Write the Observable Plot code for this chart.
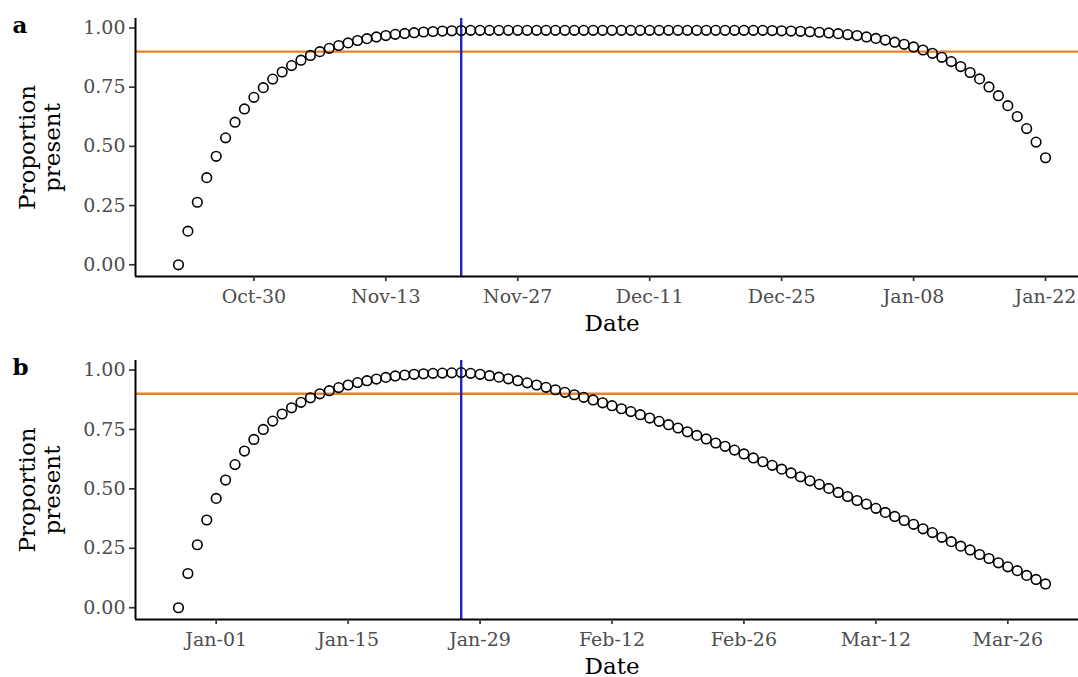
<!DOCTYPE html>
<html><head><meta charset="utf-8">
<script src="https://cdn.jsdelivr.net/npm/d3@7"></script>
<script src="https://cdn.jsdelivr.net/npm/@observablehq/plot@0.6"></script>
<style>
html,body{margin:0;padding:0;background:#fff;}
#chart svg{display:block;}
</style></head>
<body><div id="chart"></div>
<script>
// ---- data ----
const tags = ["a", "b"];
const startDates = ["2018-10-22", "2018-12-28"];       // first daily point of each panel
const peakDates = ["2018-11-21", "2019-01-27"];        // blue vertical line
const threshold = 0.9;                                 // orange horizontal line
const ticksA = ["2018-10-30","2018-11-13","2018-11-27","2018-12-11","2018-12-25","2019-01-08","2019-01-22"];
const ticksB = ["2019-01-01","2019-01-15","2019-01-29","2019-02-12","2019-02-26","2019-03-12","2019-03-26"];
const yTicks = [0, 0.25, 0.5, 0.75, 1];

const propA = [
  0.000,0.142,0.264,0.368,0.458,0.536,0.602,0.658,0.707,0.748,
  0.784,0.814,0.841,0.864,0.884,0.900,0.914,0.926,0.937,0.947,
  0.955,0.962,0.968,0.973,0.977,0.980,0.983,0.985,0.987,0.988,
  0.989,0.990,0.990,0.990,0.990,0.990,0.990,0.990,0.990,0.990,
  0.990,0.990,0.990,0.990,0.990,0.990,0.990,0.990,0.990,0.990,
  0.990,0.990,0.990,0.990,0.990,0.990,0.990,0.990,0.990,0.990,
  0.990,0.990,0.990,0.989,0.988,0.987,0.986,0.984,0.982,0.979,
  0.976,0.972,0.968,0.962,0.956,0.949,0.940,0.931,0.920,0.907,
  0.893,0.876,0.858,0.837,0.812,0.785,0.751,0.714,0.672,0.626,
  0.575,0.518,0.452
];
const propB = [
  0.000,0.144,0.265,0.369,0.460,0.537,0.602,0.659,0.708,0.750,
  0.785,0.815,0.841,0.864,0.883,0.900,0.913,0.926,0.937,0.947,
  0.955,0.962,0.969,0.975,0.979,0.982,0.984,0.986,0.987,0.988,
  0.989,0.986,0.982,0.976,0.970,0.963,0.955,0.946,0.937,0.927,
  0.917,0.906,0.896,0.885,0.874,0.862,0.850,0.837,0.825,0.812,
  0.798,0.784,0.770,0.756,0.740,0.725,0.710,0.693,0.679,0.663,
  0.647,0.630,0.614,0.599,0.583,0.567,0.551,0.534,0.519,0.502,
  0.485,0.468,0.451,0.436,0.418,0.401,0.384,0.367,0.351,0.332,
  0.316,0.296,0.278,0.259,0.243,0.224,0.207,0.189,0.172,0.156,
  0.136,0.119,0.100
];

// ---- drawing ----
const parse = s => new Date(s + "T00:00:00Z");
const DAY = 864e5;
const serif = "'DejaVu Serif', serif";

function panel(tag, start, values, ticks, peak, height, marginTop, marginBottom) {
  const t0 = parse(start);
  const data = values.map((v, i) => ({date: d3.utcDay.offset(t0, i), p: v}));
  const xDomain = [new Date(+t0 - 4.56 * DAY), new Date(+t0 + 95.5 * DAY)];
  const yDomain = [-0.0495, 1.04];
  return Plot.plot({
    width: 1078, height, marginLeft: 135, marginRight: 0, marginTop, marginBottom,
    style: {fontFamily: serif, fontSize: "19px", background: "#fff", color: "#000", overflow: "visible"},
    x: {type: "utc", domain: xDomain},
    y: {domain: yDomain},
    marks: [
      Plot.ruleY([threshold], {stroke: "#e8822a", strokeWidth: 2.4}),
      Plot.ruleX([parse(peak)], {stroke: "#2424b8", strokeWidth: 2.4}),
      Plot.ruleY([yDomain[0]], {stroke: "#000", strokeWidth: 2}),
      Plot.ruleX([xDomain[0]], {stroke: "#000", strokeWidth: 2}),
      Plot.axisX({ticks: ticks.map(parse), tickFormat: d3.utcFormat("%b-%d"), tickSize: 5, tickPadding: 8,
                  label: null, stroke: "#333", fill: "#4d4d4d", strokeWidth: 1.7}),
      Plot.axisY({ticks: yTicks, tickFormat: d3.format(".2f"), tickSize: 6, tickPadding: 4,
                  label: null, stroke: "#333", fill: "#4d4d4d", strokeWidth: 1.7}),
      Plot.dot(data, {x: "date", y: "p", r: 4.8, stroke: "#000", strokeWidth: 1.6, fill: "none"}),
      Plot.text(["Proportion\npresent"], {frameAnchor: "left", textAnchor: "middle", rotate: -90,
                  dx: -96, lineHeight: 1.1, fontSize: 23, fill: "#000"}),
      Plot.text(["Date"], {frameAnchor: "bottom", textAnchor: "middle", lineAnchor: "top",
                  dx: 5, dy: 38, fontSize: 23, fill: "#000"}),
      Plot.text([tag], {frameAnchor: "top-left", textAnchor: "start", lineAnchor: "top",
                  dx: -123, dy: -2, fontSize: 23, fontWeight: "bold", fill: "#000"})
    ]
  });
}

const root = document.getElementById("chart");
root.appendChild(panel(tags[0], startDates[0], propA, ticksA, peakDates[0], 338, 18, 62));
root.appendChild(panel(tags[1], startDates[1], propB, ticksB, peakDates[1], 339, 22, 58));
</script>
</body></html>
